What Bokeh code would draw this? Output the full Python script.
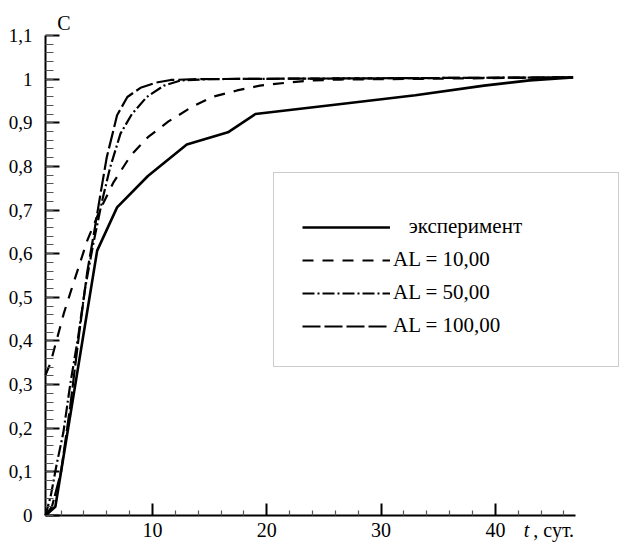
from bokeh.plotting import figure
from bokeh.models import Range1d, FixedTicker, Legend, LegendItem, LinearAxis
from bokeh.embed import file_html
from bokeh.resources import INLINE

# ---- data ----
t_exp = [0.64, 1.5, 5.16, 6.9, 9.6, 13.0, 16.6, 19.0, 26.5, 33.0, 39.0, 43.0, 46.8]
c_exp = [0.0, 0.02, 0.607, 0.706, 0.778, 0.85, 0.878, 0.92, 0.943, 0.963, 0.985, 0.997, 1.004]

t_al10 = [0.64, 1.08, 2.24, 2.97, 4.29, 5.4, 6.6, 8.1, 9.6, 11.4, 13.5, 15.2, 17.4, 19.4, 21.8, 24.1, 26.4, 35.0, 46.8]
c_al10 = [0.322, 0.35, 0.463, 0.523, 0.63, 0.70, 0.764, 0.825, 0.867, 0.903, 0.937, 0.959, 0.974, 0.985, 0.992, 0.997, 0.999, 1.001, 1.004]

t_al50 = [0.64, 1.1, 1.6, 2.2, 2.8, 3.5, 4.1, 4.8, 5.6, 6.3, 7.2, 8.2, 9.5, 11.0, 12.5, 15.0, 46.8]
c_al50 = [0.0, 0.045, 0.115, 0.19, 0.30, 0.41, 0.52, 0.62, 0.722, 0.798, 0.875, 0.92, 0.959, 0.985, 0.997, 1.0, 1.004]

t_al100 = [0.64, 1.2, 2.0, 2.8, 3.6, 4.3, 4.9, 5.45, 6.0, 6.9, 7.8, 8.95, 10.3, 11.6, 14.0, 46.8]
c_al100 = [0.0, 0.02, 0.1, 0.25, 0.42, 0.56, 0.65, 0.737, 0.821, 0.917, 0.959, 0.98, 0.992, 0.998, 1.0, 1.004]

x_major = [10, 20, 30, 40]
x_minor = [2, 4, 6, 8, 12, 14, 16, 18, 22, 24, 26, 28, 32, 34, 36, 38, 42, 44, 46]
y_major = [0.0, 0.1, 0.2, 0.3, 0.4, 0.5, 0.6, 0.7, 0.8, 0.9, 1.0, 1.1]
y_major_labels = ["0", "0,1", "0,2", "0,3", "0,4", "0,5", "0,6", "0,7", "0,8", "0,9", "1", "1,1"]
y_minor = [round(i * 0.02, 2) for i in range(0, 56)]

labels = ["\u2060\u00a0\u00a0\u00a0эксперимент", "AL = 10,00", "AL = 50,00", "AL = 100,00"]
y_title = "C"
x_title_t = "t"
x_title_unit = ", сут."
# where the axis titles sit along their axes (data units)
y_title_pos = 2.26
x_title_t_pos = 42.72
x_title_unit_pos = 45.1

# axis extents (data units)
x_axis_start, x_axis_end = 0.64, 47.0
y_axis_start, y_axis_end = 0.0, 1.1

FONT = "Liberation Serif"

# the frame covers the whole canvas; the axes are pinned at the data origin
p = figure(width=620, height=543, x_range=Range1d(-3.298, 50.945), y_range=Range1d(-0.0642, 1.1801),
           output_backend="svg", toolbar_location=None,
           min_border_left=0, min_border_right=0, min_border_top=0, min_border_bottom=0)
p.outline_line_color = None
p.xgrid.visible = False
p.ygrid.visible = False
p.background_fill_color = "white"
p.border_fill_color = "white"

for ax in (p.xaxis[0], p.yaxis[0]):
    ax.axis_line_color = "black"
    ax.axis_line_width = 2
    ax.major_tick_line_color = "black"
    ax.major_tick_line_width = 2
    ax.minor_tick_line_color = "#555555"
    ax.minor_tick_line_width = 1.2
    ax.major_tick_out = 0
    ax.minor_tick_out = 0
    ax.major_label_text_font = FONT
    ax.major_label_text_color = "black"

p.xaxis.fixed_location = y_axis_start
p.xaxis.ticker = FixedTicker(ticks=x_major, minor_ticks=x_minor)
p.xaxis.bounds = (x_axis_start, x_axis_end)
p.xaxis.major_tick_in = 12
p.xaxis.minor_tick_in = 5
p.xaxis.major_label_standoff = 8
p.xaxis.major_label_text_font_size = "20px"

p.yaxis.fixed_location = x_axis_start
p.yaxis.ticker = FixedTicker(ticks=y_major, minor_ticks=y_minor)
p.yaxis.bounds = (y_axis_start, y_axis_end)
p.yaxis.major_tick_in = 14
p.yaxis.minor_tick_in = 8
p.yaxis.major_label_standoff = 13
p.yaxis.major_label_text_font_size = "19px"
p.yaxis.major_label_overrides = {v: s for v, s in zip(y_major, y_major_labels)}


def title_axis(side, loc, pos, text, style="normal", standoff=5, size="20px"):
    a = LinearAxis(fixed_location=loc, ticker=FixedTicker(ticks=[pos], minor_ticks=[]),
                   major_label_overrides={pos: text})
    a.axis_line_color = None
    a.major_tick_line_color = None
    a.minor_tick_line_color = None
    a.major_tick_out = 0
    a.major_tick_in = 0
    a.minor_tick_out = 0
    a.minor_tick_in = 0
    a.major_label_standoff = standoff
    a.major_label_text_font = FONT
    a.major_label_text_font_size = size
    a.major_label_text_font_style = style
    a.major_label_text_color = "black"
    p.add_layout(a, side)


title_axis("above", y_axis_end, y_title_pos, y_title, standoff=1)
title_axis("below", y_axis_start, x_title_t_pos, x_title_t, style="italic", standoff=4)
title_axis("below", y_axis_start, x_title_unit_pos, x_title_unit, size="20px", standoff=4)

r_exp = p.line(t_exp, c_exp, line_color="black", line_width=2.6)
r10 = p.line(t_al10, c_al10, line_color="black", line_width=2.2, line_dash="11 9")
r50 = p.line(t_al50, c_al50, line_color="black", line_width=2.2, line_dash="12 3 2 3")
r100 = p.line(t_al100, c_al100, line_color="black", line_width=2.2, line_dash="18 4")

legend = Legend(items=[LegendItem(label=labels[0], renderers=[r_exp]),
                       LegendItem(label=labels[1], renderers=[r10]),
                       LegendItem(label=labels[2], renderers=[r50]),
                       LegendItem(label=labels[3], renderers=[r100])],
                location=(273, 176), title=" ", title_text_font_size="11px", title_standoff=1,
                padding=28, spacing=8, margin=0,
                glyph_width=88, glyph_height=20, label_height=20, label_standoff=3, label_width=197,
                label_text_font=FONT, label_text_font_size="21px", label_text_color="black",
                border_line_color="#9a9a9a", border_line_width=1.5,
                background_fill_color="white", background_fill_alpha=1.0)
p.add_layout(legend)

open("out.html", "w").write(file_html(p, INLINE))
